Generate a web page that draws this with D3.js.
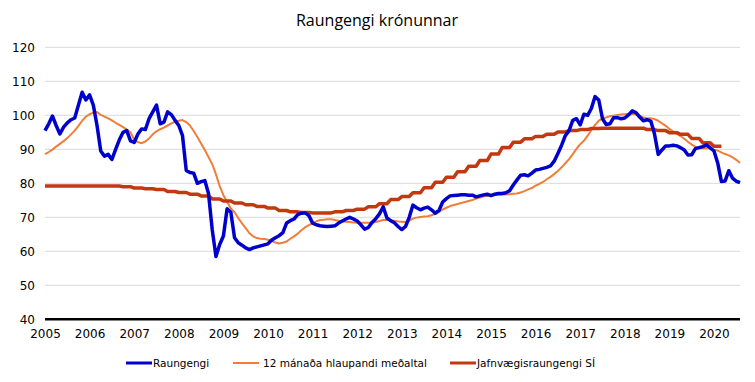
<!DOCTYPE html>
<html lang="is">
<head>
<meta charset="UTF-8">
<title>Raungengi krónunnar</title>
<script src="https://d3js.org/d3.v7.min.js"></script>
<style>
  body { margin: 0; background: #fff; }
  .axis text { font-family: "DejaVu Sans", sans-serif; font-size: 12px; fill: #000; }
  .legend text { font-family: "DejaVu Sans", sans-serif; font-size: 10.5px; fill: #000; }
</style>
</head>
<body>
<svg id="chart" width="755" height="382"></svg>
<script>
// monthly index 0 = Jan 2005
const yearLabels = ["2005","2006","2007","2008","2009","2010","2011","2012","2013","2014","2015","2016","2017","2018","2019","2020"];

// Raungengi, monthly Jan 2005 - Aug 2020
const raungengi = [
  95.5, 97.5, 99.8, 97, 94.5, 96.5, 97.8, 98.7, 99.2, 103, 106.8, 104.5,
  106, 103, 97, 89.5, 88, 88.5, 87, 90, 92.8, 95, 95.5, 92.5,
  92, 94.5, 96, 95.8, 99, 101, 103, 97.5, 98, 101, 100.2, 98.5,
  97, 94, 83.8, 83.2, 83, 80, 80.5, 80.8, 77, 66.3, 58.5, 62,
  64.5, 72.5, 71.5, 64, 62.5, 61.8, 61, 60.5, 61, 61.3, 61.6, 61.9,
  62.2, 63.3, 64, 64.6, 65.5, 68.3, 69, 69.5, 70.8, 71.2, 71.3, 70.5,
  68.3, 67.8, 67.5, 67.4, 67.3, 67.4, 67.5, 68.3, 68.9, 69.5, 70, 69.5,
  68.9, 67.8, 66.5, 67, 68.5, 69.6, 71, 73.1, 69.8, 69, 68.4, 67.3,
  66.4, 67.3, 70, 73.6, 72.8, 72.2, 72.7, 73, 72.2, 71.2, 72, 74.5,
  75.5, 76.3, 76.4, 76.5, 76.6, 76.6, 76.5, 76.5, 76, 76.3, 76.6, 76.8,
  76.4, 76.8, 77, 77, 77.2, 77.8, 79.5, 81, 82.4, 82.5, 82.2, 83,
  83.9, 84.1, 84.4, 84.7, 85.1, 86.5, 88.8, 91.2, 94, 95.5, 98.5, 99,
  97.2, 100.3, 100, 102, 105.5, 104.5, 99, 97.3, 97.5, 99.3, 99.3, 99,
  99.2, 100.1, 101.3, 100.8, 99.5, 98.4, 98.7, 98.3, 94.5, 88.5, 89.8, 91,
  91, 91.2, 91, 90.5, 89.8, 88.3, 88.4, 90.2, 90.5, 90.8, 91.3, 90.4,
  89.5, 86, 80.5, 80.7, 83.7, 81.5, 80.6, 80.2
];

// 12 mánaða hlaupandi meðaltal, monthly
const medaltal = [
  88.6, 89.2, 89.9, 90.8, 91.6, 92.4, 93.3, 94.4, 95.5, 96.9, 98.4, 99.6,
  100.3, 100.8, 101, 100.1, 99.6, 99.1, 98.5, 97.8, 97.2, 96.5, 95.8, 95,
  92.8, 92.1, 91.8, 92.3, 93.2, 94.4, 95.3, 95.9, 96.4, 97, 97.6, 98.1,
  98.4, 98.6, 98, 97, 95.4, 93.6, 91.7, 89.8, 87.7, 85.6, 82.6, 79.2,
  76.5, 74.6, 72.6, 71.5, 69.8, 68.2, 66.8, 65.3, 64.4, 63.9, 63.7, 63.6,
  63.4, 63, 62.6, 62.3, 62.5, 62.9, 63.7, 64.4, 65.2, 66.2, 67.1, 67.7,
  68.3, 68.8, 69.2, 69.3, 69.4, 69.4, 69.2, 69, 68.8, 68.7, 68.6, 68.5,
  68.4, 68.4, 68.4, 68.4, 68.4, 68.6, 68.9, 69.2, 69.2, 69.1, 69, 68.8,
  68.7, 68.6, 69, 69.6, 69.9, 70.1, 70.2, 70.3, 70.6, 71, 71.6, 72.3,
  72.8, 73.3, 73.6, 73.9, 74.2, 74.5, 74.8, 75.1, 75.5, 75.8, 76.2, 76.3,
  76.4, 76.5, 76.6, 76.7, 76.7, 76.8, 76.9, 77, 77.3, 77.7, 78.2, 78.6,
  79.3, 79.8, 80.4, 81.2, 81.9, 82.7, 83.6, 84.7, 85.9, 87.1, 88.6, 90.1,
  91.5, 92.5, 94, 95.6, 97.2, 98.4, 99, 99.4, 99.7, 99.9, 100.1, 100.2,
  100.3, 100.4, 100.4, 100.3, 99.8, 99.4, 99.1, 99.1, 98.9, 98.4, 97.6, 96.9,
  96, 95.3, 94.6, 93.9, 93.1, 92.2, 91.4, 90.8, 90.4, 90.3, 90.3, 90.3,
  89.9, 89.6, 89.1, 88.6, 88.2, 87.6, 86.9, 86
];

// Jafnvægisraungengi SÍ, quarterly Q1 2005 - Q1 2020 (held over each quarter)
const jafnvaegi = [
  79.2, 79.2, 79.2, 79.2, 79.2, 79.2, 79.2, 79.0, 78.6, 78.4, 78.2, 77.6,
  77.3, 76.8, 76.3, 75.4, 74.8, 74.2, 73.7, 73.2, 72.7, 72.0, 71.6, 71.4,
  71.3, 71.3, 71.6, 72.0, 72.4, 73.1, 74.0, 75.2, 76.1, 77.2, 78.7, 80.3,
  81.8, 83.4, 85.0, 86.7, 88.6, 90.5, 92.1, 93.1, 93.8, 94.4, 95.1, 95.5,
  95.8, 96.1, 96.2, 96.2, 96.2, 96.2, 95.8, 95.5, 94.9, 94.4, 93.2, 91.9,
  90.9
];

const seriesNames = ["Raungengi", "12 mánaða hlaupandi meðaltal", "Jafnvægisraungengi SÍ"];
const seriesColors = ["#0000CC", "#F07D3A", "#C4380F"];
const seriesWidths = [3.5, 2, 3.5];

const svg = d3.select("#chart");
const plotLeft = 45, plotRight = 740, plotTop = 47.3, plotBottom = 319.3;

const x = d3.scaleLinear().domain([0, raungengi.length - 1]).range([plotLeft, plotRight]);
const y = d3.scaleLinear().domain([40, 120]).range([plotBottom, plotTop]);

// title
svg.append("text")
  .attr("x", 377).attr("y", 26)
  .attr("text-anchor", "middle")
  .style("font-family", "'Open Sans', sans-serif")
  .style("font-size", "16px")
  .text("Raungengi krónunnar");

// gridlines
svg.append("g")
  .selectAll("line")
  .data(d3.range(50, 121, 10))
  .join("line")
  .attr("x1", plotLeft).attr("x2", plotRight)
  .attr("y1", d => y(d)).attr("y2", d => y(d))
  .attr("stroke", "#d9d9d9").attr("stroke-width", 1);

// y axis labels
const yAxis = svg.append("g").attr("class", "axis")
  .attr("transform", `translate(${plotLeft - 10},0)`)
  .call(d3.axisLeft(y).tickValues(d3.range(40, 121, 10)).tickSize(0).tickPadding(0));
yAxis.select(".domain").remove();

// x axis labels
const xAxis = svg.append("g").attr("class", "axis")
  .attr("transform", `translate(0,${plotBottom})`)
  .call(d3.axisBottom(x)
    .tickValues(yearLabels.map((d, i) => i * 12))
    .tickFormat((d, i) => yearLabels[i])
    .tickSize(0).tickPadding(10));
xAxis.select(".domain").remove();

const line = d3.line().x(d => x(d[0])).y(d => y(d[1]));

const blueData = raungengi.map((v, i) => [i, v]);
const orangeData = medaltal.map((v, i) => [i, v]);
const redData = jafnvaegi.flatMap((v, q) => [[q * 3, v], [q * 3 + 2, v]]);

svg.append("path").datum(orangeData)
  .attr("fill", "none").attr("stroke", seriesColors[1]).attr("stroke-width", seriesWidths[1])
  .attr("stroke-linejoin", "round").attr("d", line);
svg.append("path").datum(redData)
  .attr("fill", "none").attr("stroke", seriesColors[2]).attr("stroke-width", seriesWidths[2])
  .attr("stroke-linejoin", "round").attr("d", line);
svg.append("path").datum(blueData)
  .attr("fill", "none").attr("stroke", seriesColors[0]).attr("stroke-width", seriesWidths[0])
  .attr("stroke-linejoin", "round").attr("d", line);

// baseline at 40
svg.append("line")
  .attr("x1", plotLeft).attr("x2", plotRight)
  .attr("y1", y(40)).attr("y2", y(40))
  .attr("stroke", "#000").attr("stroke-width", 2.5);

// legend
const legendX = [126, 233, 450];
const legend = svg.append("g").attr("class", "legend");
seriesNames.forEach((name, i) => {
  const g = legend.append("g").attr("transform", `translate(${legendX[i]},363)`);
  g.append("line").attr("x1", 0).attr("x2", 26).attr("y1", 0).attr("y2", 0)
    .attr("stroke", seriesColors[i]).attr("stroke-width", seriesWidths[i] === 2 ? 2 : 3);
  g.append("text").attr("x", i === 1 ? 30 : 27).attr("y", 4).text(name);
});
</script>
</body>
</html>
